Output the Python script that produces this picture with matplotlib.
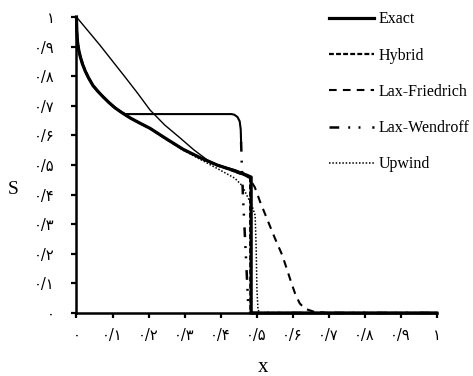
import numpy as np
import matplotlib.pyplot as plt

plt.rcParams['lines.scale_dashes'] = False

# saturation profiles
exact_x = [0.0, 0.001, 0.003, 0.006, 0.01, 0.016, 0.024, 0.034, 0.046, 0.06, 0.074, 0.09, 0.107, 0.127,
           0.149, 0.175, 0.204, 0.25, 0.296, 0.343, 0.39, 0.425, 0.454, 0.472, 0.485, 0.485, 1.0]
exact_s = [1.0, 0.95, 0.915, 0.89, 0.868, 0.843, 0.818, 0.793, 0.768, 0.748, 0.73, 0.711, 0.693, 0.676,
           0.659, 0.642, 0.624, 0.588, 0.553, 0.525, 0.5, 0.486, 0.473, 0.466, 0.459, 0.0, 0.0]

hybrid_x = [0.0, 0.002, 0.005, 0.011, 0.025, 0.047, 0.075, 0.108, 0.15, 0.205, 0.25, 0.297, 0.343,
            0.39, 0.425, 0.452, 0.47, 0.482, 0.483, 1.0]
hybrid_s = [1.0, 0.94, 0.9, 0.866, 0.816, 0.766, 0.729, 0.692, 0.658, 0.623, 0.587, 0.552, 0.524,
            0.499, 0.485, 0.472, 0.464, 0.455, 0.0, 0.0]

lf_x = [0.0, 0.065, 0.1, 0.135, 0.17, 0.204, 0.245, 0.288, 0.325, 0.363, 0.39, 0.413, 0.44, 0.463,
        0.48, 0.495, 0.51, 0.53, 0.55, 0.571, 0.585, 0.597, 0.608, 0.62, 0.635, 0.66, 0.7, 1.0]
lf_s = [1.0, 0.905, 0.851, 0.797, 0.742, 0.686, 0.635, 0.591, 0.552, 0.517, 0.502, 0.493, 0.484, 0.473,
        0.455, 0.425, 0.375, 0.315, 0.255, 0.196, 0.145, 0.1, 0.062, 0.032, 0.014, 0.004, 0.0, 0.0]
lf_split = 13

lw_x = [0.0, 0.001, 0.003, 0.006, 0.01, 0.016, 0.024, 0.034, 0.046, 0.06, 0.074, 0.09, 0.107, 0.122,
        0.135, 0.43, 0.438, 0.447, 0.453, 0.456, 0.457, 0.459, 0.462, 0.468, 0.474, 0.478, 1.0]
lw_s = [1.0, 0.95, 0.915, 0.89, 0.868, 0.843, 0.818, 0.793, 0.768, 0.748, 0.73, 0.711, 0.693, 0.68,
        0.672, 0.672, 0.67, 0.662, 0.648, 0.62, 0.578, 0.5, 0.4, 0.25, 0.1, 0.0, 0.0]
lw_split = 20

up_x = [0.0, 0.001, 0.003, 0.006, 0.01, 0.016, 0.024, 0.034, 0.046, 0.06, 0.074, 0.09, 0.107, 0.127,
        0.149, 0.175, 0.204, 0.25, 0.296, 0.35, 0.4, 0.44, 0.46, 0.474, 0.488, 0.496, 0.499, 0.501,
        0.504, 0.51, 1.0]
up_s = [1.0, 0.95, 0.915, 0.89, 0.868, 0.843, 0.818, 0.793, 0.768, 0.748, 0.73, 0.711, 0.693, 0.676,
        0.659, 0.642, 0.624, 0.588, 0.55, 0.515, 0.482, 0.455, 0.43, 0.395, 0.36, 0.33, 0.213, 0.078,
        0.01, 0.0, 0.0]

tick_vals = [0.0, 0.1, 0.2, 0.3, 0.4, 0.5, 0.6, 0.7, 0.8, 0.9, 1.0]
tick_labels = ['۰', '۰/۱', '۰/۲', '۰/۳', '۰/۴', '۰/۵', '۰/۶', '۰/۷', '۰/۸', '۰/۹', '۱']

fig = plt.figure(figsize=(4.73, 3.76), dpi=100)
ax = fig.add_axes([0.1617, 0.1676, 0.7615, 0.7872])

ax.plot(exact_x, exact_s, color='black', lw=2.3, label='Exact', clip_on=False)
ax.plot(hybrid_x, hybrid_s, color='black', lw=1.6, linestyle=(0, (3.5, 1.6)), label='Hybrid', clip_on=False)
ax.plot(lf_x[:lf_split + 1], lf_s[:lf_split + 1], color='black', lw=1.0, clip_on=False)
ax.plot(lf_x[lf_split:], lf_s[lf_split:], color='black', lw=1.5, linestyle=(0, (5.5, 4.5)),
        label='Lax-Friedrich', clip_on=False)
ax.plot(lw_x[:lw_split + 1], lw_s[:lw_split + 1], color='black', lw=1.5, clip_on=False)
ax.plot(lw_x[lw_split:], lw_s[lw_split:], color='black', lw=1.8,
        linestyle=(0, (7, 6.5, 1.4, 6, 1.4, 8.5)), label='Lax-Wendroff', clip_on=False)
ax.plot(up_x, up_s, color='black', lw=1.1, linestyle=(0, (1.1, 1.3)), label='Upwind', clip_on=False)

ax.set_xlim(0, 1)
ax.set_ylim(0, 1)
ax.set_xticks(tick_vals)
ax.set_yticks(tick_vals)
ax.set_xticklabels(tick_labels, family='DejaVu Sans', fontsize=10.5)
ax.set_yticklabels(tick_labels, family='DejaVu Sans', fontsize=10.5)

for side in ['top', 'right']:
    ax.spines[side].set_visible(False)
for side in ['left', 'bottom']:
    ax.spines[side].set_linewidth(1.8)
ax.tick_params(axis='y', direction='out', length=3.5, width=1.6, pad=12)
ax.tick_params(axis='x', direction='out', length=3.5, width=1.6, pad=7)

fig.text(0.028, 0.495, 'S', family='Liberation Serif', fontsize=14, ha='center', va='center')
fig.text(0.556, 0.022, 'x', family='Liberation Serif', fontsize=15, ha='center', va='center')

ax.legend(loc='upper left', bbox_to_anchor=(0.6956, 0.97), bbox_transform=fig.transFigure,
          frameon=False, prop={'family': 'Liberation Serif', 'size': 11.5},
          handlelength=2.8, handletextpad=0.3, labelspacing=1.27, borderpad=0, borderaxespad=0)

fig.savefig('out.png', dpi=100)
